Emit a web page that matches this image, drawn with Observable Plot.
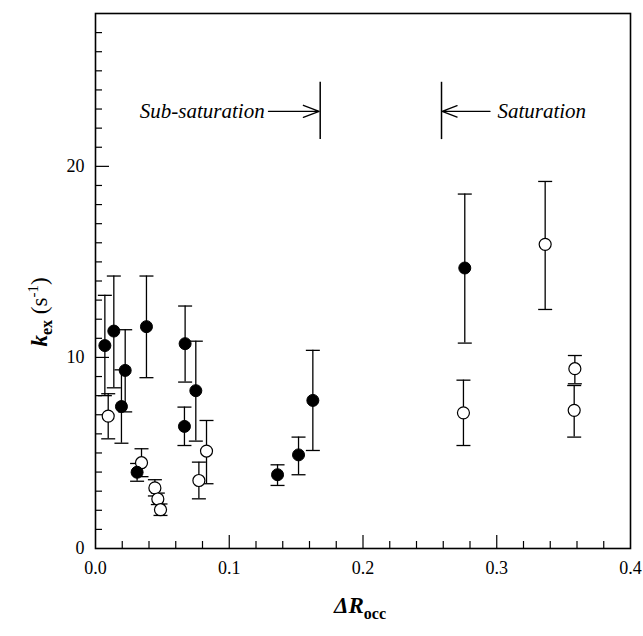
<!DOCTYPE html>
<html><head><meta charset="utf-8">
<script src="https://cdn.jsdelivr.net/npm/d3@7"></script>
<script src="https://cdn.jsdelivr.net/npm/@observablehq/plot@0.6"></script>
<style>body{margin:0;background:#fff}</style>
</head><body><div id="chart"></div>
<script>
// Filled circles
const filledX  = [0.0070, 0.0137, 0.0222, 0.0194, 0.0311, 0.0381, 0.0670, 0.0665, 0.0750, 0.1361, 0.1518, 0.1625, 0.2761];
const filledY  = [10.62, 11.38, 9.32, 7.43, 3.99, 11.61, 10.72, 6.39, 8.26, 3.86, 4.90, 7.75, 14.68];
const filledLo = [8.00, 8.41, 7.15, 5.51, 3.52, 8.94, 8.71, 5.39, 5.62, 3.30, 3.86, 5.13, 10.75];
const filledHi = [13.25, 14.26, 11.45, 9.35, 4.45, 14.26, 12.69, 7.40, 10.85, 4.38, 5.83, 10.37, 18.55];
// Open circles
const openX  = [0.0095, 0.0344, 0.0444, 0.0466, 0.0486, 0.0830, 0.0773, 0.2751, 0.3362, 0.3584, 0.3579];
const openY  = [6.93, 4.49, 3.17, 2.59, 2.03, 5.10, 3.56, 7.10, 15.92, 9.41, 7.23];
const openLo = [5.74, 3.76, 2.75, 2.30, 1.73, 3.39, 2.60, 5.39, 12.51, 8.62, 5.83];
const openHi = [8.10, 5.22, 3.60, 2.90, 2.33, 6.70, 4.52, 8.81, 19.21, 10.10, 8.53];
// Axes
const xTickLabels = [0, 0.1, 0.2, 0.3, 0.4];
const xMajor = [0.1, 0.2, 0.3];
const xMinor = [0.02,0.04,0.06,0.08,0.12,0.14,0.16,0.18,0.22,0.24,0.26,0.28,0.32,0.34,0.36,0.38];
const yTickLabels = [0, 10, 20];
const yMajor = [10, 20];
const yMinor = [1,2,3,4,5,6,7,8,9,11,12,13,14,15,16,17,18,19,21,22,23,24,25,26,27];
// Annotations
const subLabel = "Sub-saturation", satLabel = "Saturation";
const subTextX = 0.1265, satTextX = 0.3005;
const boundaryX = [0.168, 0.2587];
const arrowFromX = [0.1293, 0.295];
const arrowToX = [0.1672, 0.2592];
const annotY = 22.88;
const boundaryY1 = 21.4, boundaryY2 = 24.4;

const filled = filledX.map((x,i)=>({x, y: filledY[i], lo: filledLo[i], hi: filledHi[i]}));
const open = openX.map((x,i)=>({x, y: openY[i], lo: openLo[i], hi: openHi[i]}));
const all = filled.concat(open);
const caps = all.flatMap(d => [{x: d.x, y: d.lo}, {x: d.x, y: d.hi}]);
const arrows = arrowFromX.map((x1,i)=>({x1, x2: arrowToX[i], y: annotY}));

const W = 643, H = 636, mL = 95, mR = 13, mT = 13, mB = 88;
const fw = W - mL - mR, fh = H - mT - mB;
const FONT = "Liberation Serif";
const capSymbol = {draw(ctx, size){ const r = Math.sqrt(size/Math.PI); ctx.moveTo(-r,0); ctx.lineTo(r,0); }};

const chart = Plot.plot({
  width: W, height: H,
  marginLeft: mL, marginRight: mR, marginTop: mT, marginBottom: mB,
  style: {background: "white", color: "black", fontFamily: FONT},
  x: {domain: [0, 0.4]},
  y: {domain: [0, 28]},
  marks: [
    Plot.axisX({ticks: xTickLabels, tickFormat: d => d.toFixed(1), tickSize: 0, tickPadding: 13, fontSize: 18, label: null}),
    Plot.axisY({ticks: yTickLabels, tickFormat: d => String(d), tickSize: 0, tickPadding: 11, fontSize: 18, label: null}),
    Plot.tickX(xMinor, {x: d => d, insetTop: fh - 7, stroke: "black", strokeWidth: 1.2}),
    Plot.tickX(xMajor, {x: d => d, insetTop: fh - 13, stroke: "black", strokeWidth: 1.2}),
    Plot.tickY(yMinor, {y: d => d, insetRight: fw - 7, stroke: "black", strokeWidth: 1.2}),
    Plot.tickY(yMajor, {y: d => d, insetRight: fw - 14, stroke: "black", strokeWidth: 1.2}),
    Plot.frame({stroke: "black", strokeWidth: 1.6}),
    Plot.ruleX(all, {x: "x", y1: "lo", y2: "hi", stroke: "black", strokeWidth: 1.3}),
    Plot.dot(caps, {x: "x", y: "y", symbol: capSymbol, r: 7, fill: "none", stroke: "black", strokeWidth: 1.3}),
    Plot.dot(open, {x: "x", y: "y", r: 6, fill: "white", stroke: "black", strokeWidth: 1.2}),
    Plot.dot(filled, {x: "x", y: "y", r: 6, fill: "black", stroke: "black", strokeWidth: 1}),
    Plot.ruleX(boundaryX, {x: d => d, y1: boundaryY1, y2: boundaryY2, stroke: "black", strokeWidth: 1.5}),
    Plot.arrow(arrows, {x1: "x1", x2: "x2", y1: "y", y2: "y", stroke: "black", strokeWidth: 1.3, headLength: 24, headAngle: 42}),
    Plot.text([subLabel], {x: subTextX, y: annotY, text: d => d, textAnchor: "end", fontSize: 21, fontStyle: "italic", fill: "black"}),
    Plot.text([satLabel], {x: satTextX, y: annotY, text: d => d, textAnchor: "start", fontSize: 21, fontStyle: "italic", fill: "black"})
  ]
});

const svg = d3.select(chart);
const yl = svg.append("text")
  .attr("transform", "translate(47,312) rotate(-90)")
  .attr("text-anchor", "middle")
  .attr("font-size", 23).attr("fill", "black");
yl.append("tspan").attr("font-style", "italic").attr("font-weight", "bold").text("k");
yl.append("tspan").attr("font-weight", "bold").attr("font-size", 16).attr("dy", 5).text("ex");
yl.append("tspan").attr("dy", -5).text(" (s");
yl.append("tspan").attr("font-size", 15).attr("dy", -9).text("-1");
yl.append("tspan").attr("dy", 9).text(")");

const xl = svg.append("text")
  .attr("x", 360).attr("y", 613)
  .attr("text-anchor", "middle")
  .attr("font-size", 23).attr("fill", "black");
xl.append("tspan").attr("font-style", "italic").attr("font-weight", "bold").text("ΔR");
xl.append("tspan").attr("font-weight", "bold").attr("font-size", 16).attr("dy", 6).text("occ");

// Force the serif face everywhere inside the chart
svg.selectAll("style").remove();
svg.attr("class", null).attr("font-family", FONT).style("font-family", FONT, "important");
svg.selectAll("g").attr("font-family", FONT).style("font-family", FONT, "important");
svg.selectAll("text, tspan").attr("font-family", FONT).style("font-family", FONT, "important").style("white-space", "pre");

document.getElementById("chart").appendChild(chart);
</script>
</body></html>
